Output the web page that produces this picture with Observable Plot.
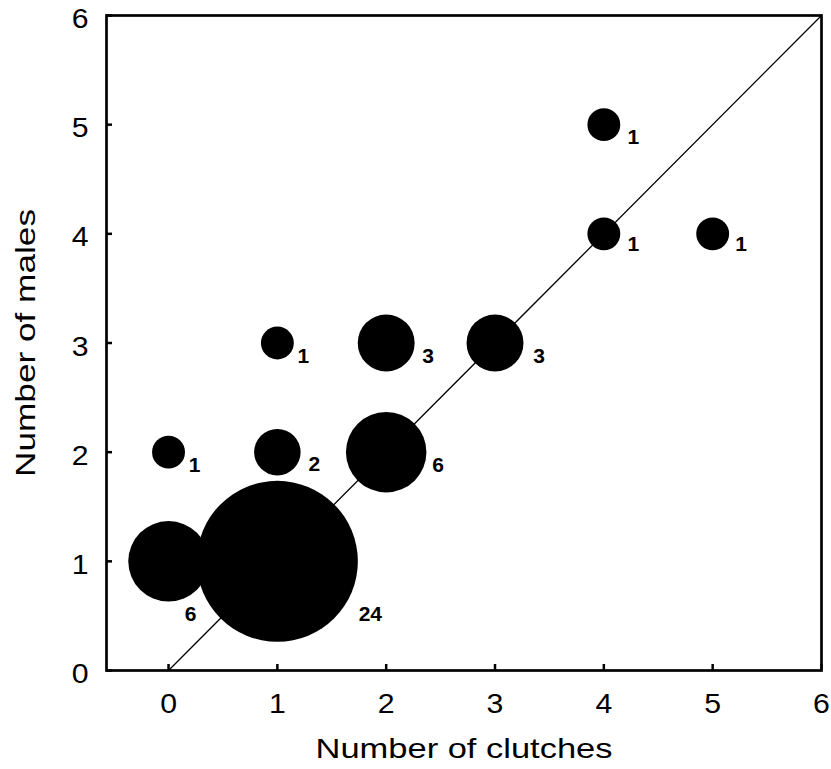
<!DOCTYPE html>
<html>
<head>
<meta charset="utf-8">
<script src="https://cdn.jsdelivr.net/npm/d3@7"></script>
<script src="https://cdn.jsdelivr.net/npm/@observablehq/plot@0.6"></script>
<style>
  html, body { margin: 0; padding: 0; background: #fff; }
</style>
</head>
<body>
<div id="chart"></div>
<script>
// Data: number of clutches vs number of males, bubble = number of cases
const clutches = [0, 1, 0, 1, 2, 1, 2, 3, 4, 4, 5];
const males    = [1, 1, 2, 2, 2, 3, 3, 3, 4, 5, 4];
const counts   = [6, 24, 1, 2, 6, 1, 3, 3, 1, 1, 1];
const xTicks = [0, 1, 2, 3, 4, 5, 6];
const yTicks = [0, 1, 2, 3, 4, 5, 6];
const diagonal = [0, 6];

// label placement (pixel offsets from bubble centre)
const labelOffsets = [[22, 53], [93, 53], [26, 13], [37, 12.5], [52, 13], [26, 13], [42, 13], [44, 13], [29.5, 10], [29.5, 12.8], [28.4, 10]];

const data = clutches.map((c, i) => ({clutches: c, males: males[i], count: counts[i]}));
const diag = diagonal.map(v => ({x: v, y: v}));

const font = "Arial, 'Liberation Sans', Helvetica, sans-serif";
const W = 831, H = 769, mT = 15, mB = 99, mL = 106, mR = 10;
const tickLen = 6;

const plot = Plot.plot({
  width: W,
  height: H,
  marginTop: mT,
  marginBottom: mB,
  marginLeft: mL,
  marginRight: mR,
  style: {fontFamily: font, fontSize: "27px", color: "black", background: "white", overflow: "visible"},
  x: {domain: [-0.57, 6]},
  y: {domain: [0, 6]},
  r: {type: "sqrt", domain: [0, 24], range: [0, 80.5]},
  marks: [
    Plot.line(diag, {x: "x", y: "y", stroke: "black", strokeWidth: 1.3}),
    Plot.dot(data, {x: "clutches", y: "males", r: "count", fill: "black", stroke: "none"}),
    ...data.map((d, i) => Plot.text([d], {
      x: "clutches", y: "males", text: (d) => String(d.count),
      dx: labelOffsets[i][0], dy: labelOffsets[i][1],
      fontSize: 21, fontWeight: "bold", fill: "black"
    })),
    // inward ticks along the bottom and left frame edges
    Plot.tickX(xTicks, {x: (d) => d, stroke: "black", strokeWidth: 2.5, insetTop: (H - mT - mB) - tickLen}),
    Plot.tickY(yTicks, {y: (d) => d, stroke: "black", strokeWidth: 2.5, insetRight: (W - mL - mR) - tickLen}),
    Plot.axisX(xTicks, {tickSize: 0, tickPadding: 23, fontSize: 27, tickFormat: (d) => String(d), label: "Number of clutches", labelAnchor: "center", labelOffset: 87, labelArrow: "none"}),
    Plot.axisY(yTicks, {tickSize: 0, tickPadding: 18, dy: 4, fontSize: 27, tickFormat: (d) => String(d), label: "Number of males", labelAnchor: "center", labelOffset: 91, labelArrow: "none"}),
    Plot.frame({stroke: "black", strokeWidth: 2.7})
  ]
});

d3.select(plot).selectAll('g[aria-label="x-axis label"] text, g[aria-label="y-axis label"] text')
  .attr("font-size", 28);
d3.select(plot).selectAll('g[aria-label="x-axis label"] text')
  .attr("textLength", 297).attr("lengthAdjust", "spacingAndGlyphs");
d3.select(plot).selectAll('g[aria-label="y-axis label"] text')
  .attr("textLength", 268).attr("lengthAdjust", "spacingAndGlyphs");
d3.select(plot).selectAll('g[aria-label="x-axis tick label"] text, g[aria-label="y-axis tick label"] text')
  .attr("font-size", 27);

document.getElementById("chart").appendChild(plot);

// slight horizontal widening of tick labels, as in the reference
d3.select(plot).selectAll('g[aria-label="x-axis tick label"] text, g[aria-label="y-axis tick label"] text')
  .each(function () {
    const w = this.getComputedTextLength();
    if (w > 0) d3.select(this).attr("textLength", w * 1.12).attr("lengthAdjust", "spacingAndGlyphs");
  });
</script>
</body>
</html>
